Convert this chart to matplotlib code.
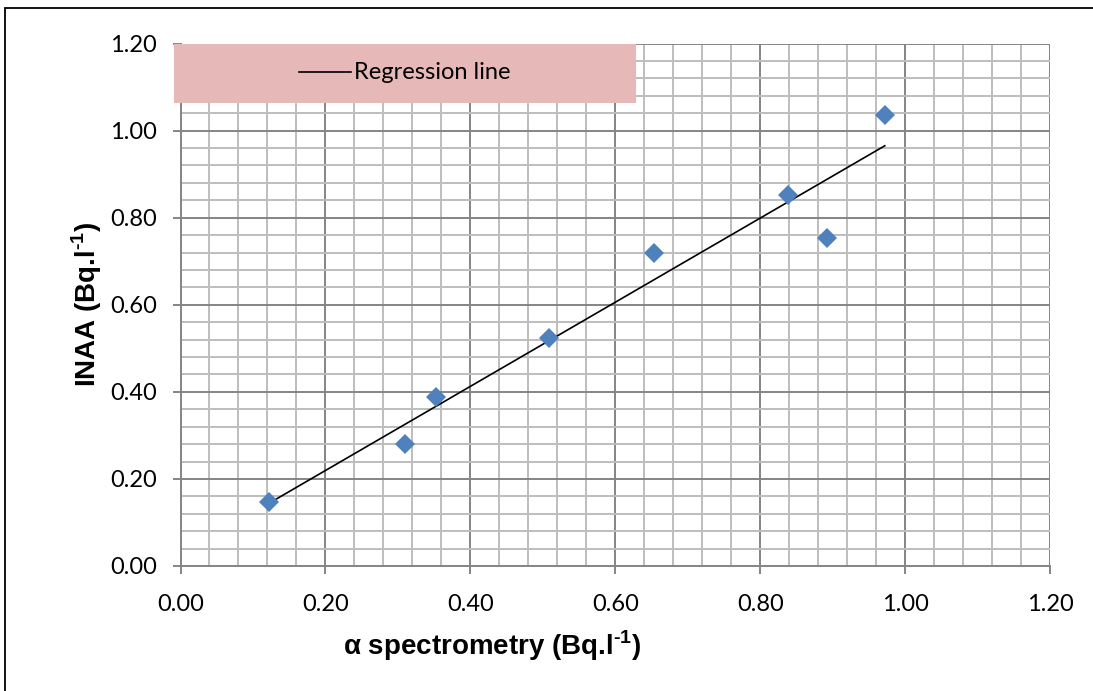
import numpy as np
import matplotlib.pyplot as plt
from matplotlib.patches import Rectangle
from matplotlib.ticker import MultipleLocator

# ---------------- DATA ----------------
alpha_spec = [0.122, 0.310, 0.352, 0.508, 0.653, 0.838, 0.892, 0.972]
inaa = [0.146, 0.281, 0.388, 0.524, 0.718, 0.853, 0.754, 1.035]
tick_values = [0.0, 0.2, 0.4, 0.6, 0.8, 1.0, 1.2]

plt.rcParams['mathtext.fontset'] = 'custom'
plt.rcParams['mathtext.rm'] = 'Liberation Sans:bold'
plt.rcParams['mathtext.bf'] = 'Liberation Sans:bold'

W, H = 1093, 691
fig = plt.figure(figsize=(W / 100, H / 100), dpi=100)
ax = fig.add_axes([180.5 / W, 1 - 566 / H, (1050 - 180.5) / W, (566 - 43.6) / H])

# outer frame (only top and left are in view)
fig.patches.append(Rectangle((5 / W, -0.1), 1.2, 1.1 - 8 / H, transform=fig.transFigure,
                             fill=False, edgecolor='black', linewidth=1.3, zorder=0))

ax.set_xlim(0, 1.2)
ax.set_ylim(0, 1.2)
ax.set_xticks(tick_values)
ax.set_yticks(tick_values)
ax.xaxis.set_minor_locator(MultipleLocator(0.04))
ax.yaxis.set_minor_locator(MultipleLocator(0.04))
ax.set_xticklabels([f"{v:.2f}" for v in tick_values])
ax.set_yticklabels([f"{v:.2f}" for v in tick_values])

ax.grid(which='minor', color='#bdbdbd', linewidth=1.4, zorder=0)
ax.grid(which='major', color='#858585', linewidth=1.4, zorder=0.5)
ax.set_axisbelow(True)

for s in ['top', 'right']:
    ax.spines[s].set_visible(False)
for s in ['left', 'bottom']:
    ax.spines[s].set_color('#858585')
    ax.spines[s].set_linewidth(1.4)

ax.tick_params(which='major', length=6, width=1.4, color='#858585',
               labelsize=17, pad=11)
ax.tick_params(which='minor', length=0)
for lab in ax.get_xticklabels() + ax.get_yticklabels():
    lab.set_fontfamily('Lato')
ax.tick_params(axis='x', pad=14)

# ---------------- REGRESSION ----------------
slope, intercept = np.polyfit(alpha_spec, inaa, 1)
xl = np.array([min(alpha_spec), max(alpha_spec)])
ax.plot(xl, slope * xl + intercept, color='black', linewidth=1.2, zorder=3)

ax.plot(alpha_spec, inaa, linestyle='none', marker='D', markersize=10.5,
        color='#4f81bd', markeredgewidth=0, zorder=4, clip_on=False)

# legend box
ax.add_patch(Rectangle((-0.009, 1.064), 0.637, 0.136, facecolor='#e6b9b8',
                       edgecolor='none', zorder=5, clip_on=False))
ax.plot([0.164, 0.235], [1.134, 1.134], color='black', linewidth=1.2, zorder=6, clip_on=False)
ax.text(0.24, 1.134, 'Regression line', fontsize=17, family='Lato',
        va='center', ha='left', zorder=6)

# ---------------- AXIS LABELS ----------------
fig.text(492 / W, 1 - 646 / H, r'α spectrometry (Bq.l$^{\text{-1}}$)', fontsize=20,
         fontweight='bold', family='Liberation Sans', ha='center', va='center')
fig.text(87 / W, 1 - 304 / H, r'INAA (Bq.l$^{\text{-1}}$)', fontsize=20, rotation=90,
         fontweight='bold', family='Liberation Sans', ha='center', va='center')

fig.savefig('out.png', dpi=100)
